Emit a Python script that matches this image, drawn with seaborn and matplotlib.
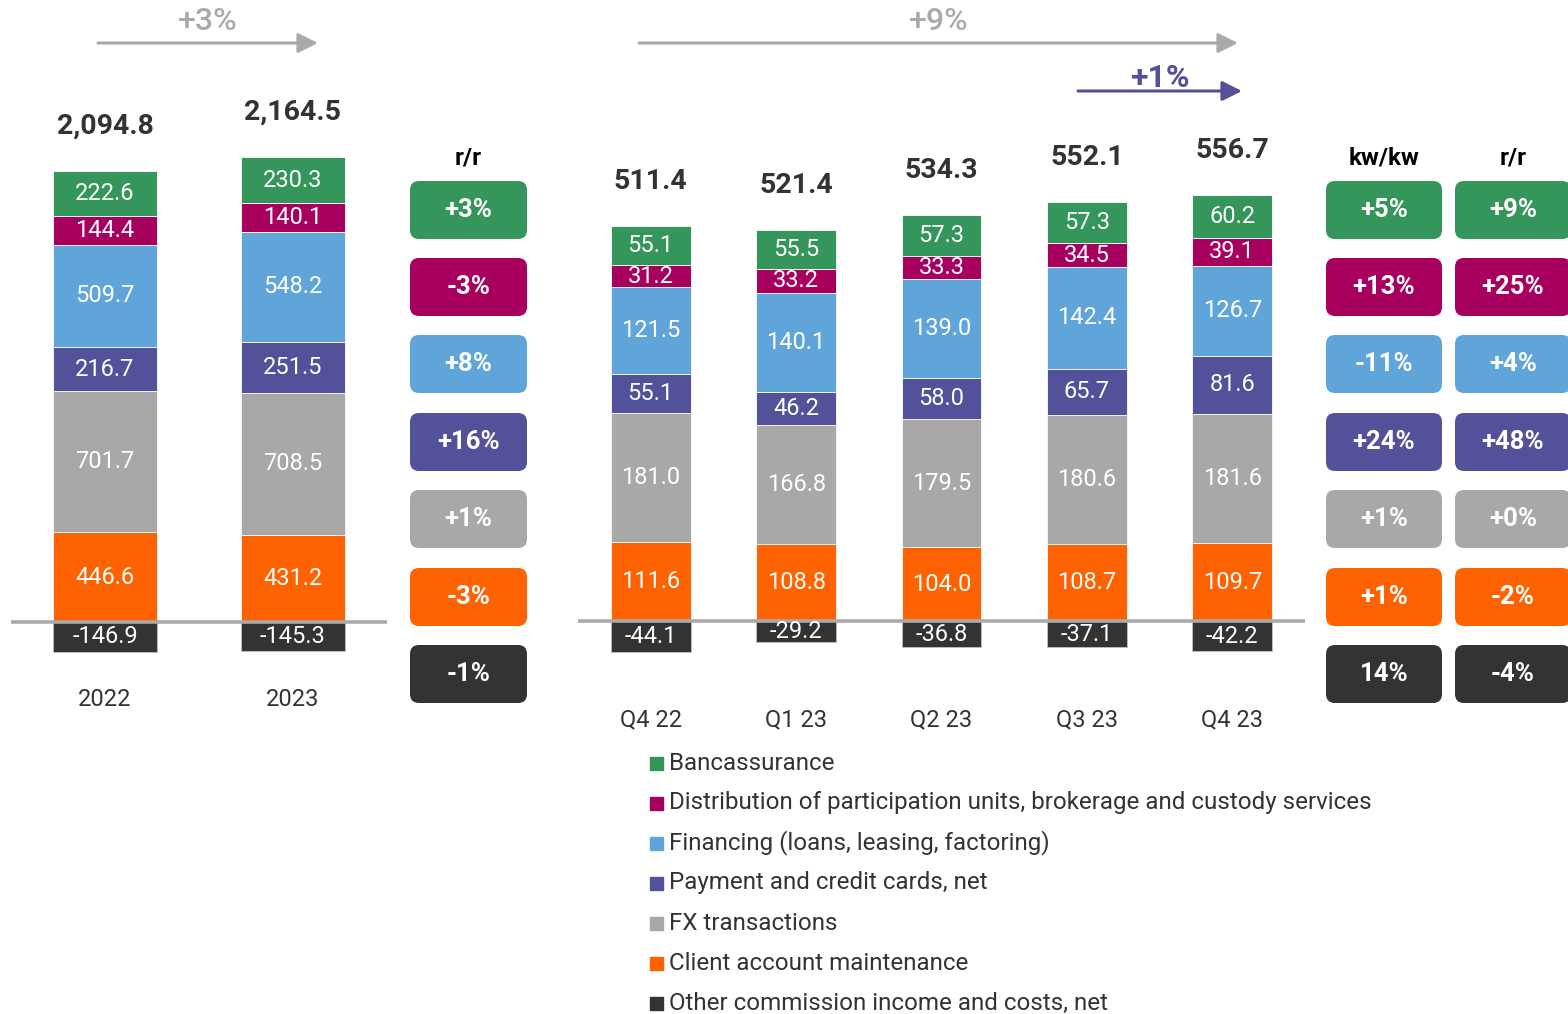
import matplotlib
matplotlib.use("Agg")
import matplotlib.pyplot as plt
from matplotlib.patches import FancyBboxPatch, Rectangle
import pandas as pd
import seaborn as sns

# categories
years = ["2022", "2023"]
quarters = ["Q4 22", "Q1 23", "Q2 23", "Q3 23", "Q4 23"]
series = ["Bancassurance",
          "Distribution of participation units, brokerage and custody services",
          "Financing (loans, leasing, factoring)",
          "Payment and credit cards, net",
          "FX transactions",
          "Client account maintenance",
          "Other commission income and costs, net"]

# annual values
y_banc = [222.6, 230.3]
y_dist = [144.4, 140.1]
y_fin = [509.7, 548.2]
y_pay = [216.7, 251.5]
y_fx = [701.7, 708.5]
y_acc = [446.6, 431.2]
y_oth = [-146.9, -145.3]
y_total = [2094.8, 2164.5]

# quarterly values
q_banc = [55.1, 55.5, 57.3, 57.3, 60.2]
q_dist = [31.2, 33.2, 33.3, 34.5, 39.1]
q_fin = [121.5, 140.1, 139.0, 142.4, 126.7]
q_pay = [55.1, 46.2, 58.0, 65.7, 81.6]
q_fx = [181.0, 166.8, 179.5, 180.6, 181.6]
q_acc = [111.6, 108.8, 104.0, 108.7, 109.7]
q_oth = [-44.1, -29.2, -36.8, -37.1, -42.2]
q_total = [511.4, 521.4, 534.3, 552.1, 556.7]

# change badges (same order as series)
yoy_annual = ["+3%", "-3%", "+8%", "+16%", "+1%", "-3%", "-1%"]
qoq = ["+5%", "+13%", "-11%", "+24%", "+1%", "+1%", "14%"]
yoy_quarter = ["+9%", "+25%", "+4%", "+48%", "+0%", "-2%", "-4%"]

colors = ["#34965A", "#A8005F", "#60A5DA", "#52519A", "#A8A8A8", "#FF6200", "#333333"]
dark = "#333333"

sns.set_style("white")
plt.rcParams['font.family'] = ['Roboto', 'DejaVu Sans']

W, H = 1568, 1014
fig = plt.figure(figsize=(W / 100, H / 100), dpi=100)

# overlay in pixel coordinates for badges, arrows, legend
ov = fig.add_axes([0, 0, 1, 1])
ov.set_xlim(0, W)
ov.set_ylim(H, 0)
ov.axis("off")


def px_axes(l, t, r, b):
    return fig.add_axes([l / W, 1 - b / H, (r - l) / W, (b - t) / H])


def stacked(ax, cats, cols, neg, totals, width, ylim):
    df = pd.DataFrame(dict(zip(series[:6], cols)), index=cats)
    order = series[5::-1]  # bottom to top
    cum = df[order].cumsum(axis=1)
    for name in reversed(order):
        sns.barplot(x=cats, y=cum[name].values, order=cats, color=colors[series.index(name)],
                    saturation=1, width=width, edgecolor="#f4f4f4", linewidth=0.7, ax=ax, zorder=2)
    sns.barplot(x=cats, y=neg, order=cats, color=colors[6], saturation=1, width=width,
                edgecolor="#bbbbbb", linewidth=0.7, ax=ax, zorder=2)
    for i, cat in enumerate(cats):
        bottom = 0
        for name in order:
            v = df.loc[cat, name]
            ax.text(i, bottom + v / 2, f"{v:.1f}", ha="center", va="center",
                    fontsize=17, color="white", zorder=4)
            bottom += v
        ax.text(i, neg[i] / 2, f"{neg[i]:.1f}", ha="center", va="center",
                fontsize=17, color="white", zorder=4)
        ax.annotate(f"{totals[i]:,.1f}", (i, bottom), xytext=(0, 32), textcoords="offset points",
                    ha="center", va="center", fontsize=20.5, fontweight="bold", color=dark)
    ax.axhline(0, color="#AAAAAA", lw=2.6, zorder=3)
    ax.set_xlim(-0.5, len(cats) - 0.5)
    ax.set_ylim(*ylim)
    ax.set_yticks([])
    ax.set_xlabel("")
    ax.set_ylabel("")
    ax.tick_params(axis="x", length=0, pad=6, labelsize=17, labelcolor=dark)
    sns.despine(ax=ax, left=True, bottom=True)
    ax.patch.set_alpha(0)


ax1 = px_axes(11, 140, 387, 680)
stacked(ax1, years, [y_banc, y_dist, y_fin, y_pay, y_fx, y_acc], y_oth, y_total, 0.553, (-288.1, 2394.4))

ax2 = px_axes(578, 140, 1305, 700)
stacked(ax2, quarters, [q_banc, q_dist, q_fin, q_pay, q_fx, q_acc], q_oth, q_total, 0.55, (-111.1, 676.5))

# badges
row_y = [210, 287, 364, 442, 519, 597, 674]


def badges(xc, bw, vals, header):
    ov.text(xc, 158, header, ha="center", va="center", fontsize=17.5, fontweight="bold", color="black")
    bh, r = 58, 9
    for yc, v, c in zip(row_y, vals, colors):
        ov.add_patch(FancyBboxPatch((xc - bw / 2 + r, yc - bh / 2 + r), bw - 2 * r, bh - 2 * r,
                                    boxstyle=f"round,pad={r},rounding_size={r}", fc=c, ec="none"))
        ov.text(xc, yc, v, ha="center", va="center", fontsize=18.5, fontweight="bold", color="white")


badges(468.5, 117, yoy_annual, "r/r")
badges(1384, 116, qoq, "kw/kw")
badges(1513, 116, yoy_quarter, "r/r")

# growth arrows


def arrow(x0, x1, y, text, ty, color, weight):
    ov.annotate("", xy=(x1, y), xytext=(x0, y),
                arrowprops=dict(arrowstyle="-|>,head_length=0.6,head_width=0.3", color=color,
                                lw=2.2, mutation_scale=20, shrinkA=0, shrinkB=0))
    ov.text((x0 + x1) / 2, ty, text, ha="center", va="center", fontsize=23,
            fontweight=weight, color=color)


arrow(98, 318, 43, "+3%", 22, "#AAAAAA", "medium")
arrow(639, 1238, 43, "+9%", 22, "#AAAAAA", "medium")
arrow(1078, 1242, 91, "+1%", 78, "#52519A", "bold")

# legend
for k, (name, c) in enumerate(zip(series, colors)):
    y = 763 + 40 * k
    ov.add_patch(Rectangle((650, y - 6.5), 13, 13, color=c))
    ov.text(669, y, name, ha="left", va="center", fontsize=17.4, color=dark)

fig.savefig("out.png", dpi=100)
